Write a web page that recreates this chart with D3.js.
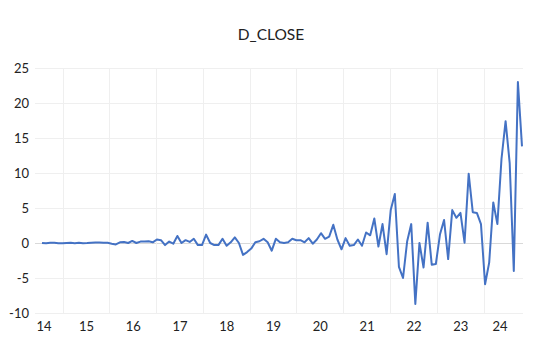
<!DOCTYPE html>
<html>
<head>
<meta charset="utf-8">
<script src="https://cdn.jsdelivr.net/npm/d3@7"></script>
<style>
  html, body { margin: 0; padding: 0; background: #ffffff; }
  svg { display: block; }
  text { font-family: Lato, "Liberation Sans", sans-serif; fill: #222; }
</style>
</head>
<body>
<svg id="chart" width="540" height="355"></svg>
<script>
// ---- data ----
const title = "D_CLOSE";
const yearLabels = ["14","15","16","17","18","19","20","21","22","23","24"];
const years = [2014,2015,2016,2017,2018,2019,2020,2021,2022,2023,2024];
const yTicks = [-10,-5,0,5,10,15,20,25];
const startYear = 2014.55;   // first observation (fractional year)
const endYear = 2024.81;     // last observation (fractional year)
const dClose = [
  0, -0.05, 0.02, 0.05, -0.02, -0.05, 0, 0.04, -0.03, 0.03, -0.02, 0, 0.05, 0.06, 0.06, 0.05, 0.04, -0.1,
  -0.2, 0.1, 0.15, 0, 0.3, 0, 0.2, 0.2, 0.25, 0.1, 0.5, 0.4, -0.3, 0.2, -0.1, 1.0,
  0, 0.4, 0.15, 0.6, -0.3, -0.3, 1.2, 0, -0.3, -0.3,
  0.6, -0.4, 0.1, 0.8, 0, -1.7, -1.3, -0.8, 0.1, 0.25,
  0.6, 0.1, -1.1, 0.6, 0.1, 0, 0.1, 0.6, 0.4, 0.4,
  0.1, 0.7, -0.1, 0.5, 1.4, 0.6, 0.9, 2.6, 0.5,
  -0.9, 0.7, -0.4, -0.3, 0.5, -0.4, 1.5, 1.1, 3.5, -0.5,
  2.7, -1.6, 4.7, 7.0, -3.4, -5.0, 0.2, 2.7, -8.7, 0,
  -3.5, 2.9, -3.1, -3.0, 1.2, 3.3, -2.3, 4.7, 3.6, 4.3,
  0.05, 9.9, 4.4, 4.3, 2.7, -5.9, -2.8, 5.8, 2.7, 12.0,
  17.4, 11.4, -4.0, 23.0, 13.8
];

// ---- layout ----
const svg = d3.select("#chart");
const plotLeft = 35, plotRight = 523;
const lineLeft = 42, lineRight = 522;
const plotTop = 68, plotBottom = 313;

const n = dClose.length;
const points = dClose.map((v, i) => ({ t: startYear + i * (endYear - startYear) / (n - 1), v }));

const x = d3.scaleLinear().domain([startYear, endYear]).range([lineLeft, lineRight]);
const y = d3.scaleLinear().domain([-10, 25]).range([plotBottom, plotTop]);

// horizontal gridlines
svg.append("g").selectAll("line").data(yTicks).join("line")
  .attr("x1", plotLeft).attr("x2", plotRight)
  .attr("y1", d => y(d)).attr("y2", d => y(d))
  .attr("stroke", d => d === 0 ? "#d9d9d9" : "#efefef")
  .attr("stroke-width", 1)
  .attr("shape-rendering", "crispEdges");

// vertical gridlines at year boundaries
svg.append("g").selectAll("line").data(years.slice(1)).join("line")
  .attr("x1", d => x(d)).attr("x2", d => x(d))
  .attr("y1", plotTop).attr("y2", plotBottom)
  .attr("stroke", "#efefef")
  .attr("stroke-width", 1)
  .attr("shape-rendering", "crispEdges");

// y labels
svg.append("g").selectAll("text").data(yTicks).join("text")
  .attr("x", 29).attr("y", d => y(d))
  .attr("text-anchor", "end")
  .attr("dominant-baseline", "central")
  .attr("font-size", 13)
  .text(d => d);

// x labels centered in each year band (clipped to the chart)
const bandLo = 25, bandHi = 516;
svg.append("g").selectAll("text").data(years).join("text")
  .attr("x", d => (Math.max(x(d), bandLo) + Math.min(x(d + 1), bandHi)) / 2)
  .attr("y", 331)
  .attr("text-anchor", "middle")
  .attr("font-size", 13)
  .text((d, i) => yearLabels[i]);

// line
const line = d3.line().x(d => x(d.t)).y(d => y(d.v));
svg.append("path").datum(points)
  .attr("d", line)
  .attr("fill", "none")
  .attr("stroke", "#4472C4")
  .attr("stroke-width", 2)
  .attr("stroke-linejoin", "round");

// title
svg.append("text")
  .attr("x", 271).attr("y", 39.5)
  .attr("text-anchor", "middle")
  .attr("font-size", 15.5)
  .text(title);
</script>
</body>
</html>
